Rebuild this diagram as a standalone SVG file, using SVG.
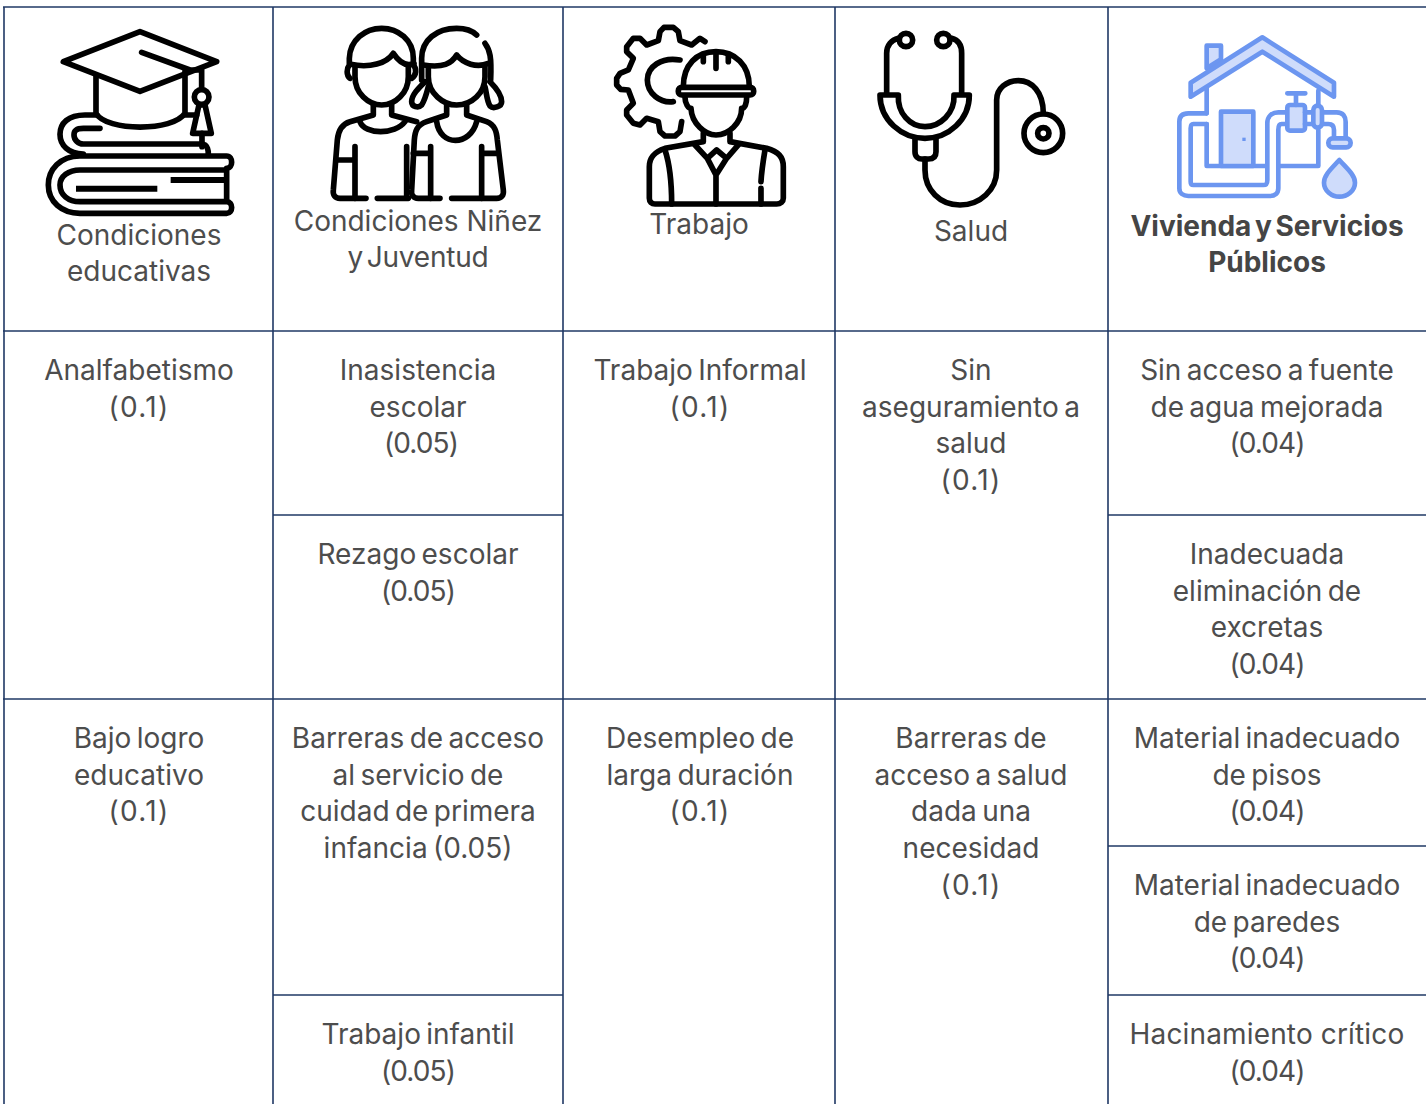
<svg xmlns="http://www.w3.org/2000/svg" width="1426" height="1104" viewBox="0 0 1426 1104">
<style>
text{font-family:"Inter","Liberation Sans",sans-serif;font-size:28px;fill:#4d4d4d;text-anchor:middle;word-spacing:-2.5px}
.b{font-weight:700;fill:#454545;word-spacing:-3px}
.n{word-spacing:-4px;letter-spacing:-.2px}
.w{word-spacing:0;letter-spacing:.15px}
.p{letter-spacing:-.9px}
.q{letter-spacing:1.3px}
.grid line{stroke:#1f3864;stroke-width:1.6}
.ic{fill:none;stroke:#000;stroke-width:17;stroke-linecap:round;stroke-linejoin:round}
.ho{fill:none;stroke:#6c96f0;stroke-width:14;stroke-linecap:round;stroke-linejoin:round}
.ho .f{fill:#cfdcfb}
</style>
<rect width="1426" height="1104" fill="#fff"/>
<g id="grid" class="grid">
<line x1="3" y1="7" x2="1426" y2="7"/><line x1="3" y1="331" x2="1426" y2="331"/><line x1="3" y1="699" x2="1426" y2="699"/>
<line x1="273" y1="515" x2="563" y2="515"/><line x1="1108" y1="515" x2="1426" y2="515"/>
<line x1="273" y1="995" x2="563" y2="995"/><line x1="1108" y1="846" x2="1426" y2="846"/><line x1="1108" y1="995" x2="1426" y2="995"/>
<line x1="4" y1="7" x2="4" y2="1104"/><line x1="273" y1="7" x2="273" y2="1104"/><line x1="563" y1="7" x2="563" y2="1104"/><line x1="835" y1="7" x2="835" y2="1104"/><line x1="1108" y1="7" x2="1108" y2="1104"/>
</g>
<g id="h-educacion">
<g class="ic" transform="scale(.3333)">
<path d="M190,185 L420,95 L650,185 L420,274 Z"/>
<path d="M425,157 L570,210 H605 V265"/>
<path d="M288,225 V340 C320,395 520,395 555,340 V215"/>
<path d="M555,345 H590"/>
<circle cx="605" cy="291" r="22"/>
<path d="M597,315 L578,400 H634 L615,315 Z"/>
<path d="M606,400 V440 M290,345 H255 C205,345 180,370 180,403 C180,435 205,462 250,462"/>
<path d="M300,385 H250 C225,385 222,395 222,405 C222,420 235,432 250,432 H605 C625,432 625,458 625,462"/>
<path d="M240,468 C180,468 145,510 145,555 C145,605 185,640 240,640 H680 C700,640 700,605 680,605 H240 C205,605 180,585 180,555 C180,530 205,510 240,510 H680 M240,468 H680 C700,468 700,505 680,505 M680,505 V605"/>
<path d="M228,566 H472 M512,540 H675" stroke-linecap="butt" stroke-width="18"/>
</g>
<text x="139" y="245">Condiciones</text><text x="139" y="281">educativas</text>
</g>
<g id="h-ninez">
<g class="ic" transform="translate(280,0) scale(.3333)">
<path d="M210,235 C198,225 200,205 208,195 V175 C210,120 255,85 305,85 C355,85 400,120 400,175 V195 C410,205 410,225 395,235"/>
<path d="M212,193 C270,205 320,190 340,160 C360,190 380,200 402,190"/>
<path d="M225,200 V230 C225,280 265,315 305,315 C345,315 385,280 385,230 V200"/>
<path d="M280,315 V345 L210,365 C185,372 175,390 172,420 L160,570 C158,585 165,595 180,595 H258"/>
<path d="M335,315 V345 L410,365 M240,365 C255,405 345,405 375,365"/>
<path d="M225,440 V595 M170,480 H225 M380,440 V595 M292,595 H385"/>
<path d="M425,240 V175 C425,120 470,85 530,85 C560,85 580,95 590,105 M615,130 C630,150 635,170 632,240"/>
<path d="M430,195 C490,205 515,190 530,165 C550,190 590,205 625,190"/>
<path d="M445,200 V230 C445,280 490,315 530,315 C575,315 615,280 615,230 V200"/>
<path d="M435,245 C415,265 395,285 395,305 C395,320 415,325 425,315 C435,300 440,280 445,260 M630,245 C650,265 665,285 665,305 C665,320 640,328 630,318 C620,300 620,280 615,260"/>
<path d="M500,315 V345 L440,365 C410,375 405,395 403,420 L395,570 C393,585 400,595 415,595 H480"/>
<path d="M560,315 V345 L620,365 C645,375 650,395 652,420 L670,570 C672,585 665,595 650,595 H515"/>
<path d="M470,365 C480,440 570,440 590,365 M452,440 V595 M400,460 H452 M605,440 V595 M610,460 H650"/>
</g>
<text x="418" y="231" style="word-spacing:0">Condiciones Niñez</text><text class="n" x="418" y="267">y Juventud</text>
</g>
<g id="h-trabajo">
<g class="ic" transform="translate(590,10) scale(.3333)">
<path d="M345,95 L330,85 L305,105 L270,92 L265,65 L250,52 H222 L210,65 L205,92 L170,105 L150,85 L130,85 L110,110 V125 L130,145 L115,180 L90,190 L80,205 V225 L92,238 L115,240 L130,280 L110,300 V315 L130,340 L150,345 L170,325 L205,335 L210,365 L225,378 H255 L270,365 L275,335"/>
<path d="M270,150 C215,140 172,170 172,210 C172,250 210,280 250,275"/>
<path d="M280,230 C280,165 320,125 378,125 C435,125 478,165 478,230"/>
<rect x="265" y="232" width="226" height="23" rx="10"/>
<path d="M340,135 V155 M378,130 V175 M415,135 V155"/>
<path d="M285,262 C285,280 295,295 303,295 C305,340 345,375 378,375 C415,375 455,340 455,295 C465,295 470,280 470,262"/>
<path d="M340,370 V395 L225,415 C195,425 178,440 178,470 V565 C178,575 185,582 195,582 H560 C572,582 580,575 580,565 V470 C580,440 565,425 530,415 L420,395 V370"/>
<path d="M315,405 L352,445 L380,420 L410,445 L445,405 M352,445 L378,495 L410,445 M378,495 V582"/>
<path d="M225,420 C235,450 245,500 245,582 M525,420 C520,450 515,480 513,515 M513,535 V582"/>
</g>
<text x="699" y="234">Trabajo</text>
</g>
<g id="h-salud">
<g class="ic" transform="translate(860,10) scale(.3333)">
<circle cx="138" cy="90" r="20"/><circle cx="250" cy="90" r="20"/>
<path d="M115,85 C95,90 80,105 80,130 V250 M275,85 C295,90 305,105 305,130 V250"/>
<path d="M60,255 H115 C112,310 150,350 195,350 C240,350 285,310 282,255 H328 C328,330 265,385 195,385 C125,385 60,330 60,255 Z" stroke-linecap="butt"/>
<path d="M165,385 V425 C165,440 175,447 185,447 H205 C220,447 228,440 228,425 V385"/>
<path d="M195,447 V480 C195,540 240,585 300,585 C360,585 410,540 410,480 V270 C410,235 440,212 475,212 C515,212 550,245 550,310"/>
<circle cx="550" cy="370" r="58"/><circle cx="550" cy="370" r="17"/>
</g>
<text x="971" y="241">Salud</text>
</g>
<g id="h-vivienda">
<g class="ho" transform="translate(1150,20) scale(.3333)">
<path class="f" d="M170,145 V77 H213 V118 Z"/>
<path class="f" d="M122,188 L337,52 L552,188 V230 L337,95 L122,230 Z"/>
<path d="M170,205 V280 M170,312 V438 H345 M388,438 H505 V330 M505,212 V255"/>
<rect class="f" x="213" y="275" width="97" height="163"/>
<path d="M282,353 V363" stroke-width="10" stroke-linecap="butt"/>
<path d="M170,280 H115 C95,280 88,290 88,305 V505 C88,520 100,528 115,528 H360 C375,528 385,520 385,505 V330 C385,318 388,312 395,312 H415"/>
<path d="M170,312 H130 C122,312 122,320 122,325 V485 C122,492 125,495 130,495 H340 C350,495 352,490 352,480 V310 C352,290 365,277 385,277 H412"/>
<rect class="f" x="412" y="255" width="53" height="77" rx="8"/>
<path d="M438,255 V222 M412,220 H466"/>
<path d="M465,277 H488 M465,312 H488 M518,277 H560 C580,277 587,290 587,305 V355 M518,312 H535 C548,312 552,320 552,330 V355"/>
<rect class="f" x="490" y="257" width="26" height="66" rx="13"/>
<rect class="f" x="535" y="355" width="67" height="27" rx="13"/>
<path class="f" d="M568,420 C545,445 522,465 522,488 C522,512 545,530 568,530 C592,530 615,512 615,488 C615,465 590,445 568,420 Z"/>
</g>
<text class="b" x="1267" y="236">Vivienda y Servicios</text><text class="b" x="1267" y="272">Públicos</text>
</g>
<g id="c-analfabetismo"><text x="139" y="380">Analfabetismo</text><text class="q" x="139" y="417">(0.1)</text></g>
<g id="c-inasistencia"><text x="418" y="380">Inasistencia</text><text x="418" y="417">escolar</text><text class="p" x="421" y="453">(0.05)</text></g>
<g id="c-rezago"><text x="418" y="564">Rezago escolar</text><text class="p" x="418" y="601">(0.05)</text></g>
<g id="c-informal"><text x="700" y="380">Trabajo Informal</text><text class="q" x="700" y="417">(0.1)</text></g>
<g id="c-aseguramiento"><text x="971" y="380">Sin</text><text x="971" y="417">aseguramiento a</text><text x="971" y="453">salud</text><text class="q" x="971" y="490">(0.1)</text></g>
<g id="c-agua"><text x="1267" y="380">Sin acceso a fuente</text><text x="1267" y="417">de agua mejorada</text><text class="p" x="1267" y="453">(0.04)</text></g>
<g id="c-excretas"><text x="1267" y="564">Inadecuada</text><text x="1267" y="601">eliminación de</text><text x="1267" y="637">excretas</text><text class="p" x="1267" y="674">(0.04)</text></g>
<g id="c-logro"><text x="139" y="748">Bajo logro</text><text x="139" y="785">educativo</text><text class="q" x="139" y="821">(0.1)</text></g>
<g id="c-barreras-cuidado"><text x="418" y="748">Barreras de acceso</text><text x="418" y="785">al servicio de</text><text x="418" y="821">cuidad de primera</text><text x="418" y="858">infancia (0.05)</text></g>
<g id="c-infantil"><text x="418" y="1044">Trabajo infantil</text><text class="p" x="418" y="1081">(0.05)</text></g>
<g id="c-desempleo"><text x="700" y="748">Desempleo de</text><text x="700" y="785">larga duración</text><text class="q" x="700" y="821">(0.1)</text></g>
<g id="c-barreras-salud"><text x="971" y="748">Barreras de</text><text x="971" y="785">acceso a salud</text><text x="971" y="821">dada una</text><text x="971" y="858">necesidad</text><text class="q" x="971" y="895">(0.1)</text></g>
<g id="c-pisos"><text x="1267" y="748">Material inadecuado</text><text x="1267" y="785">de pisos</text><text class="p" x="1267" y="821">(0.04)</text></g>
<g id="c-paredes"><text x="1267" y="895">Material inadecuado</text><text x="1267" y="932">de paredes</text><text class="p" x="1267" y="968">(0.04)</text></g>
<g id="c-hacinamiento"><text class="w" x="1267" y="1044">Hacinamiento crítico</text><text class="p" x="1267" y="1081">(0.04)</text></g>
</svg>
